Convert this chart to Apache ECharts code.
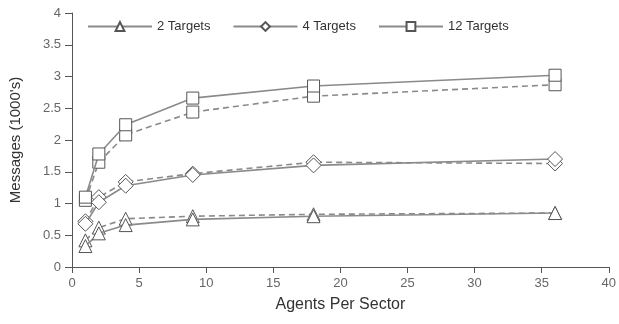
<!DOCTYPE html>
<html>
<head>
<meta charset="utf-8">
<script src="https://cdn.jsdelivr.net/npm/echarts@6/dist/echarts.min.js"></script>
<style>html,body{margin:0;padding:0;background:#fff}#c{width:619px;height:324px}</style>
</head>
<body>
<div id="c"></div>
<script>
var agents = [1, 2, 4, 9, 18, 36];
var t2Solid = [0.33, 0.53, 0.66, 0.75, 0.80, 0.85];
var t2Dashed = [0.42, 0.62, 0.76, 0.80, 0.83, 0.85];
var t4Solid = [0.68, 1.02, 1.28, 1.45, 1.60, 1.70];
var t4Dashed = [0.72, 1.10, 1.34, 1.47, 1.65, 1.63];
var t12Solid = [1.10, 1.78, 2.24, 2.66, 2.85, 3.02];
var t12Dashed = [1.05, 1.65, 2.08, 2.44, 2.69, 2.87];
var names = ['2 Targets', '4 Targets', '12 Targets'];
var xTicks = {min: 0, max: 40, interval: 5};
var yTicks = {min: 0, max: 4, interval: 0.5};

function pairs(vals) { return agents.map(function (a, i) { return [a, vals[i]]; }); }
var font = 'Liberation Sans, Arial, sans-serif';
function mk(name, vals, symbol, dashed, size) {
  return {
    name: name, type: 'line', data: pairs(vals), symbol: symbol, symbolSize: size,
    showAllSymbol: true,
    lineStyle: {color: '#8a8a8a', width: 1.6, type: dashed ? [6, 4] : 'solid'},
    itemStyle: {color: '#fff', borderColor: '#555', borderWidth: 1},
    emphasis: {disabled: true}, animation: false, z: dashed ? 2 : 3
  };
}
var chart = echarts.init(document.getElementById('c'));
chart.setOption({
  animation: false,
  grid: {left: 71, right: 6, top: 13, bottom: 57},
  legend: {
    data: names, left: 82, top: 15, itemWidth: 64, itemHeight: 11, itemGap: 22,
    textStyle: {fontFamily: font, fontSize: 13, color: '#333'},
    inactiveColor: '#ccc'
  },
  xAxis: {
    type: 'value', min: xTicks.min, max: xTicks.max, interval: xTicks.interval,
    name: 'Agents Per Sector', nameLocation: 'middle', nameGap: 30,
    nameTextStyle: {fontFamily: font, fontSize: 16, color: '#333'},
    axisLine: {lineStyle: {color: '#555', width: 1}},
    axisTick: {show: true, length: 6, lineStyle: {color: '#555'}},
    axisLabel: {fontFamily: font, fontSize: 13, color: '#666', margin: 10},
    splitLine: {show: false}
  },
  yAxis: {
    type: 'value', min: yTicks.min, max: yTicks.max, interval: yTicks.interval,
    name: "Messages (1000's)", nameLocation: 'middle', nameGap: 49,
    nameTextStyle: {fontFamily: font, fontSize: 15, color: '#333'},
    axisLine: {show: true, lineStyle: {color: '#555', width: 1}},
    axisTick: {show: true, length: 7, lineStyle: {color: '#555'}},
    axisLabel: {fontFamily: font, fontSize: 13, color: '#666', margin: 11},
    splitLine: {show: false}
  },
  series: [
    mk(names[0], t2Solid, 'triangle', false, 13),
    mk(names[0], t2Dashed, 'triangle', true, 13),
    mk(names[1], t4Solid, 'diamond', false, 15),
    mk(names[1], t4Dashed, 'diamond', true, 15),
    mk(names[2], t12Solid, 'rect', false, 12),
    mk(names[2], t12Dashed, 'rect', true, 12)
  ]
});
</script>
</body>
</html>
